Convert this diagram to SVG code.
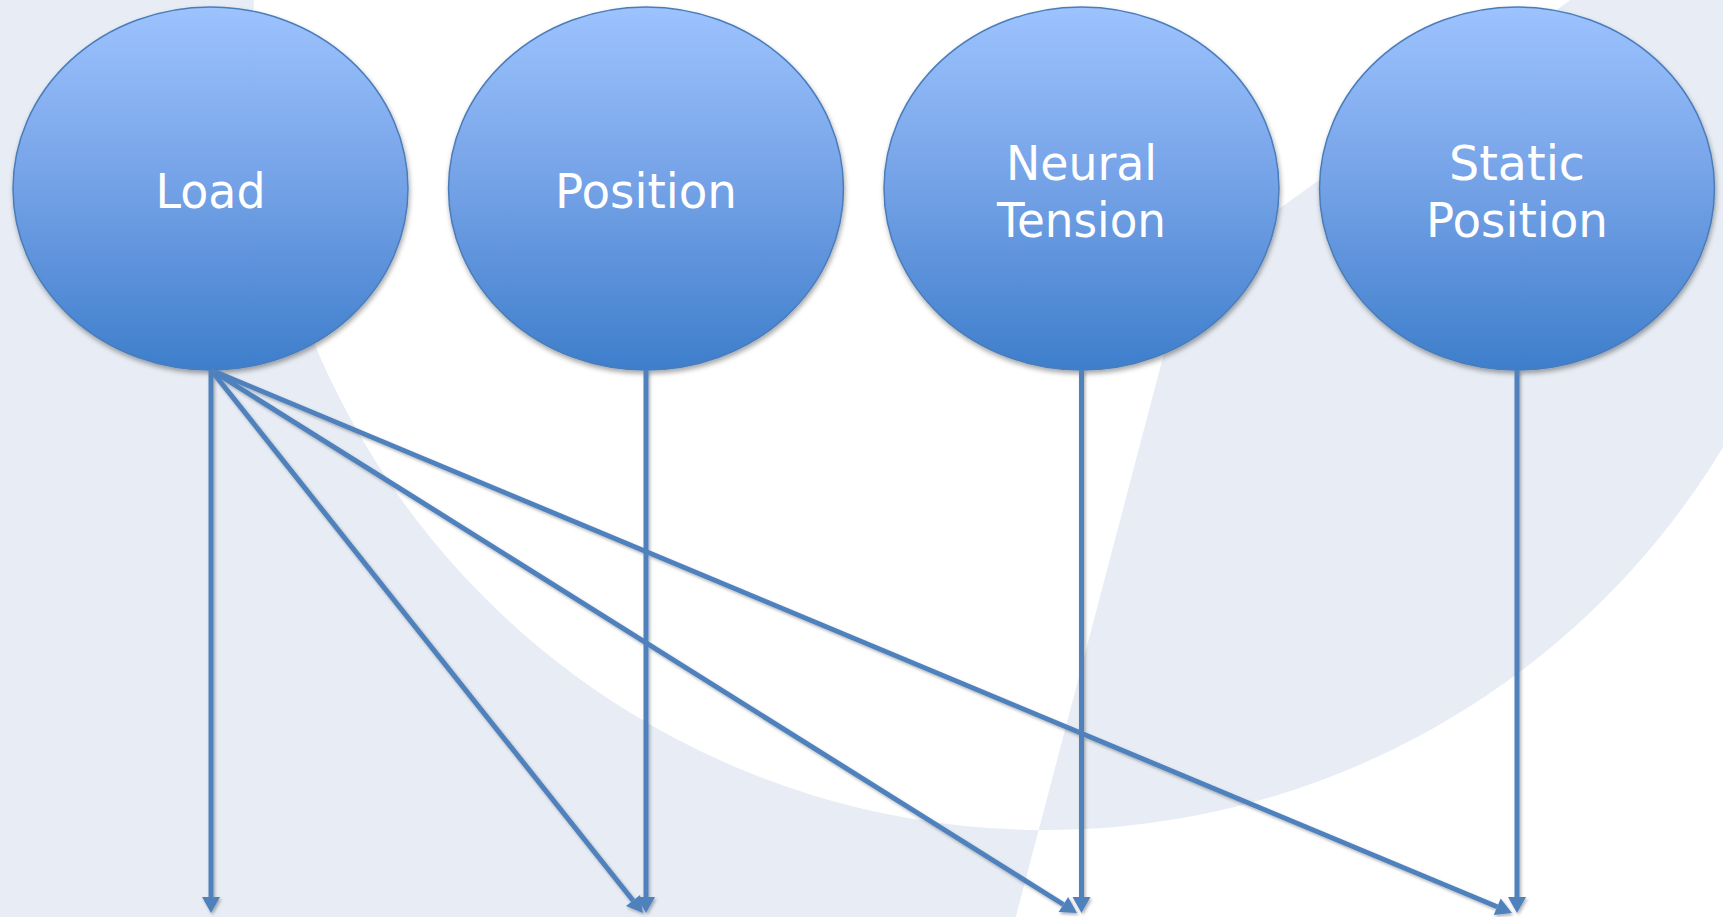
<svg xmlns="http://www.w3.org/2000/svg" width="1723" height="917" viewBox="0 0 1723 917">
  <defs>
    <linearGradient id="nodeFill" x1="0" y1="0" x2="0" y2="1">
      <stop offset="0" stop-color="#9DC3FE"/>
      <stop offset="0.5" stop-color="#73A1E6"/>
      <stop offset="1" stop-color="#3E7ECB"/>
    </linearGradient>
    <filter id="nodeShadow" x="-10%" y="-10%" width="120%" height="125%">
      <feDropShadow dx="1" dy="3" stdDeviation="2.5" flood-color="#000" flood-opacity="0.35"/>
    </filter>
    <filter id="lineShadow" x="-5%" y="-5%" width="110%" height="110%">
      <feDropShadow dx="1.5" dy="2" stdDeviation="1.5" flood-color="#000" flood-opacity="0.3"/>
    </filter>
    <marker id="arrow" viewBox="0 0 16 18" refX="0" refY="9" markerWidth="16" markerHeight="18" markerUnits="userSpaceOnUse" orient="auto" overflow="visible">
      <path d="M0,0 L16,9 L0,18 Z" fill="#4F81BD"/>
    </marker>
  </defs>
  <style>
    .node ellipse { fill: url(#nodeFill); stroke: #4A7DBA; stroke-width: 1.5; filter: url(#nodeShadow); }
    .label { font-family: "DejaVu Sans", "Liberation Sans", sans-serif; font-size: 48px; fill: #FFFFFF; text-anchor: middle; }
    .edge { stroke: #4F81BD; stroke-width: 5; fill: none; marker-end: url(#arrow); }
  </style>

  <!-- backdrop: pale swoosh made from a large circle and a wedge (even-odd) -->
  <g id="backdrop">
    <rect x="0" y="0" width="1723" height="917" fill="#E8EDF5"/>
    <path fill="#FFFFFF" fill-rule="evenodd"
          d="M253,38 A792,792 0 1 0 1837,38 A792,792 0 1 0 253,38 Z
             M1184,277 L994,1000 L1800,1000 L1800,-50 L1640,-50 Z"/>
  </g>

  <g id="node-load" class="node">
    <ellipse cx="210.5" cy="188.5" rx="197.5" ry="181.5"/>
    <text class="label" x="210.5" y="208" textLength="110" lengthAdjust="spacingAndGlyphs">Load</text>
  </g>
  <g id="node-position" class="node">
    <ellipse cx="646" cy="188.5" rx="197.5" ry="181.5"/>
    <text class="label" x="646" y="208" textLength="182" lengthAdjust="spacingAndGlyphs">Position</text>
  </g>
  <g id="node-neural-tension" class="node">
    <ellipse cx="1081.5" cy="188.5" rx="197.5" ry="181.5"/>
    <text class="label" x="1081.5" y="180" textLength="151" lengthAdjust="spacingAndGlyphs">Neural</text>
    <text class="label" x="1081.5" y="237" textLength="169" lengthAdjust="spacingAndGlyphs">Tension</text>
  </g>
  <g id="node-static-position" class="node">
    <ellipse cx="1517" cy="188.5" rx="197.5" ry="181.5"/>
    <text class="label" x="1517" y="180" textLength="136" lengthAdjust="spacingAndGlyphs">Static</text>
    <text class="label" x="1517" y="237" textLength="182" lengthAdjust="spacingAndGlyphs">Position</text>
  </g>

  <g id="connectors" filter="url(#lineShadow)">
    <!-- fan out from Load -->
    <path class="edge" d="M211,370 L211,897"/>
    <path class="edge" d="M211,370 L633,900.5"/>
    <path class="edge" d="M211,370 L1063.4,904.5"/>
    <path class="edge" d="M211,370 L1497.2,906.8"/>
    <!-- straight drops -->
    <path class="edge" d="M646,370 L646,897"/>
    <path class="edge" d="M1081.5,370 L1081.5,897"/>
    <path class="edge" d="M1517,370 L1517,897"/>
  </g>
</svg>
